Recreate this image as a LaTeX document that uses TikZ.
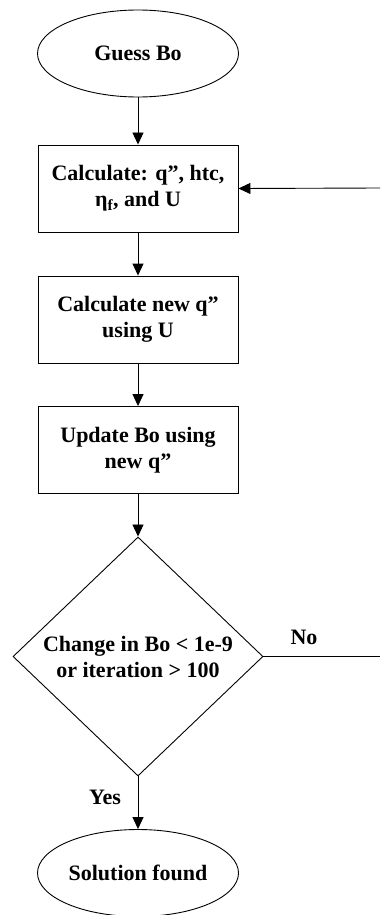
\documentclass[tikz,border=0pt]{standalone}
\usepackage{fontspec}
\setmainfont{Liberation Serif}
\usetikzlibrary{shapes.geometric,arrows.meta}
\begin{document}
\begin{tikzpicture}[x=1pt,y=-1pt,
  base/.style={draw=black, line width=0.9pt, font=\fontsize{22}{26}\selectfont\bfseries, align=center, inner sep=0pt},
  term/.style={base, ellipse, minimum width=201pt, minimum height=87pt},
  proc/.style={base, rectangle, minimum width=200pt, minimum height=87pt},
  dec/.style={base, diamond, minimum width=250pt, minimum height=239pt},
  arr/.style={-{Triangle[width=11pt,length=12pt]}, line width=0.9pt},
  lab/.style={font=\fontsize{22}{26}\selectfont\bfseries, inner sep=0pt}]
\useasboundingbox (0,0) rectangle (380,915);
\node[term] (guess) at (138,53.5) {Guess Bo};
\node[proc] (calc) at (138,188.5) {Calculate: q”, htc,\\η\textsubscript{f}, and U};
\node[proc] (newq) at (138,319.5) {Calculate new q”\\using U};
\node[proc] (upd) at (138,450) {Update Bo using\\new q”};
\node[dec] (chk) at (138,656.5) {Change in Bo < 1e-9\\or iteration > 100};
\node[term] (sol) at (138,873) {Solution found};
\coordinate (fbin) at (380,188);
\coordinate (fbout) at (380,656.5);
\draw[arr] (guess) -- (calc);
\draw[arr] (calc) -- (newq);
\draw[arr] (newq) -- (upd);
\draw[arr] (upd) -- (chk);
\draw[arr] (chk) -- (sol);
\draw[arr] (fbin) -- (calc.east);
\draw[line width=0.9pt] (chk.east) -- (fbout);
\node[lab] (no) at (304,637) {No};
\node[lab] (yes) at (105,797) {Yes};
\end{tikzpicture}
\end{document}
